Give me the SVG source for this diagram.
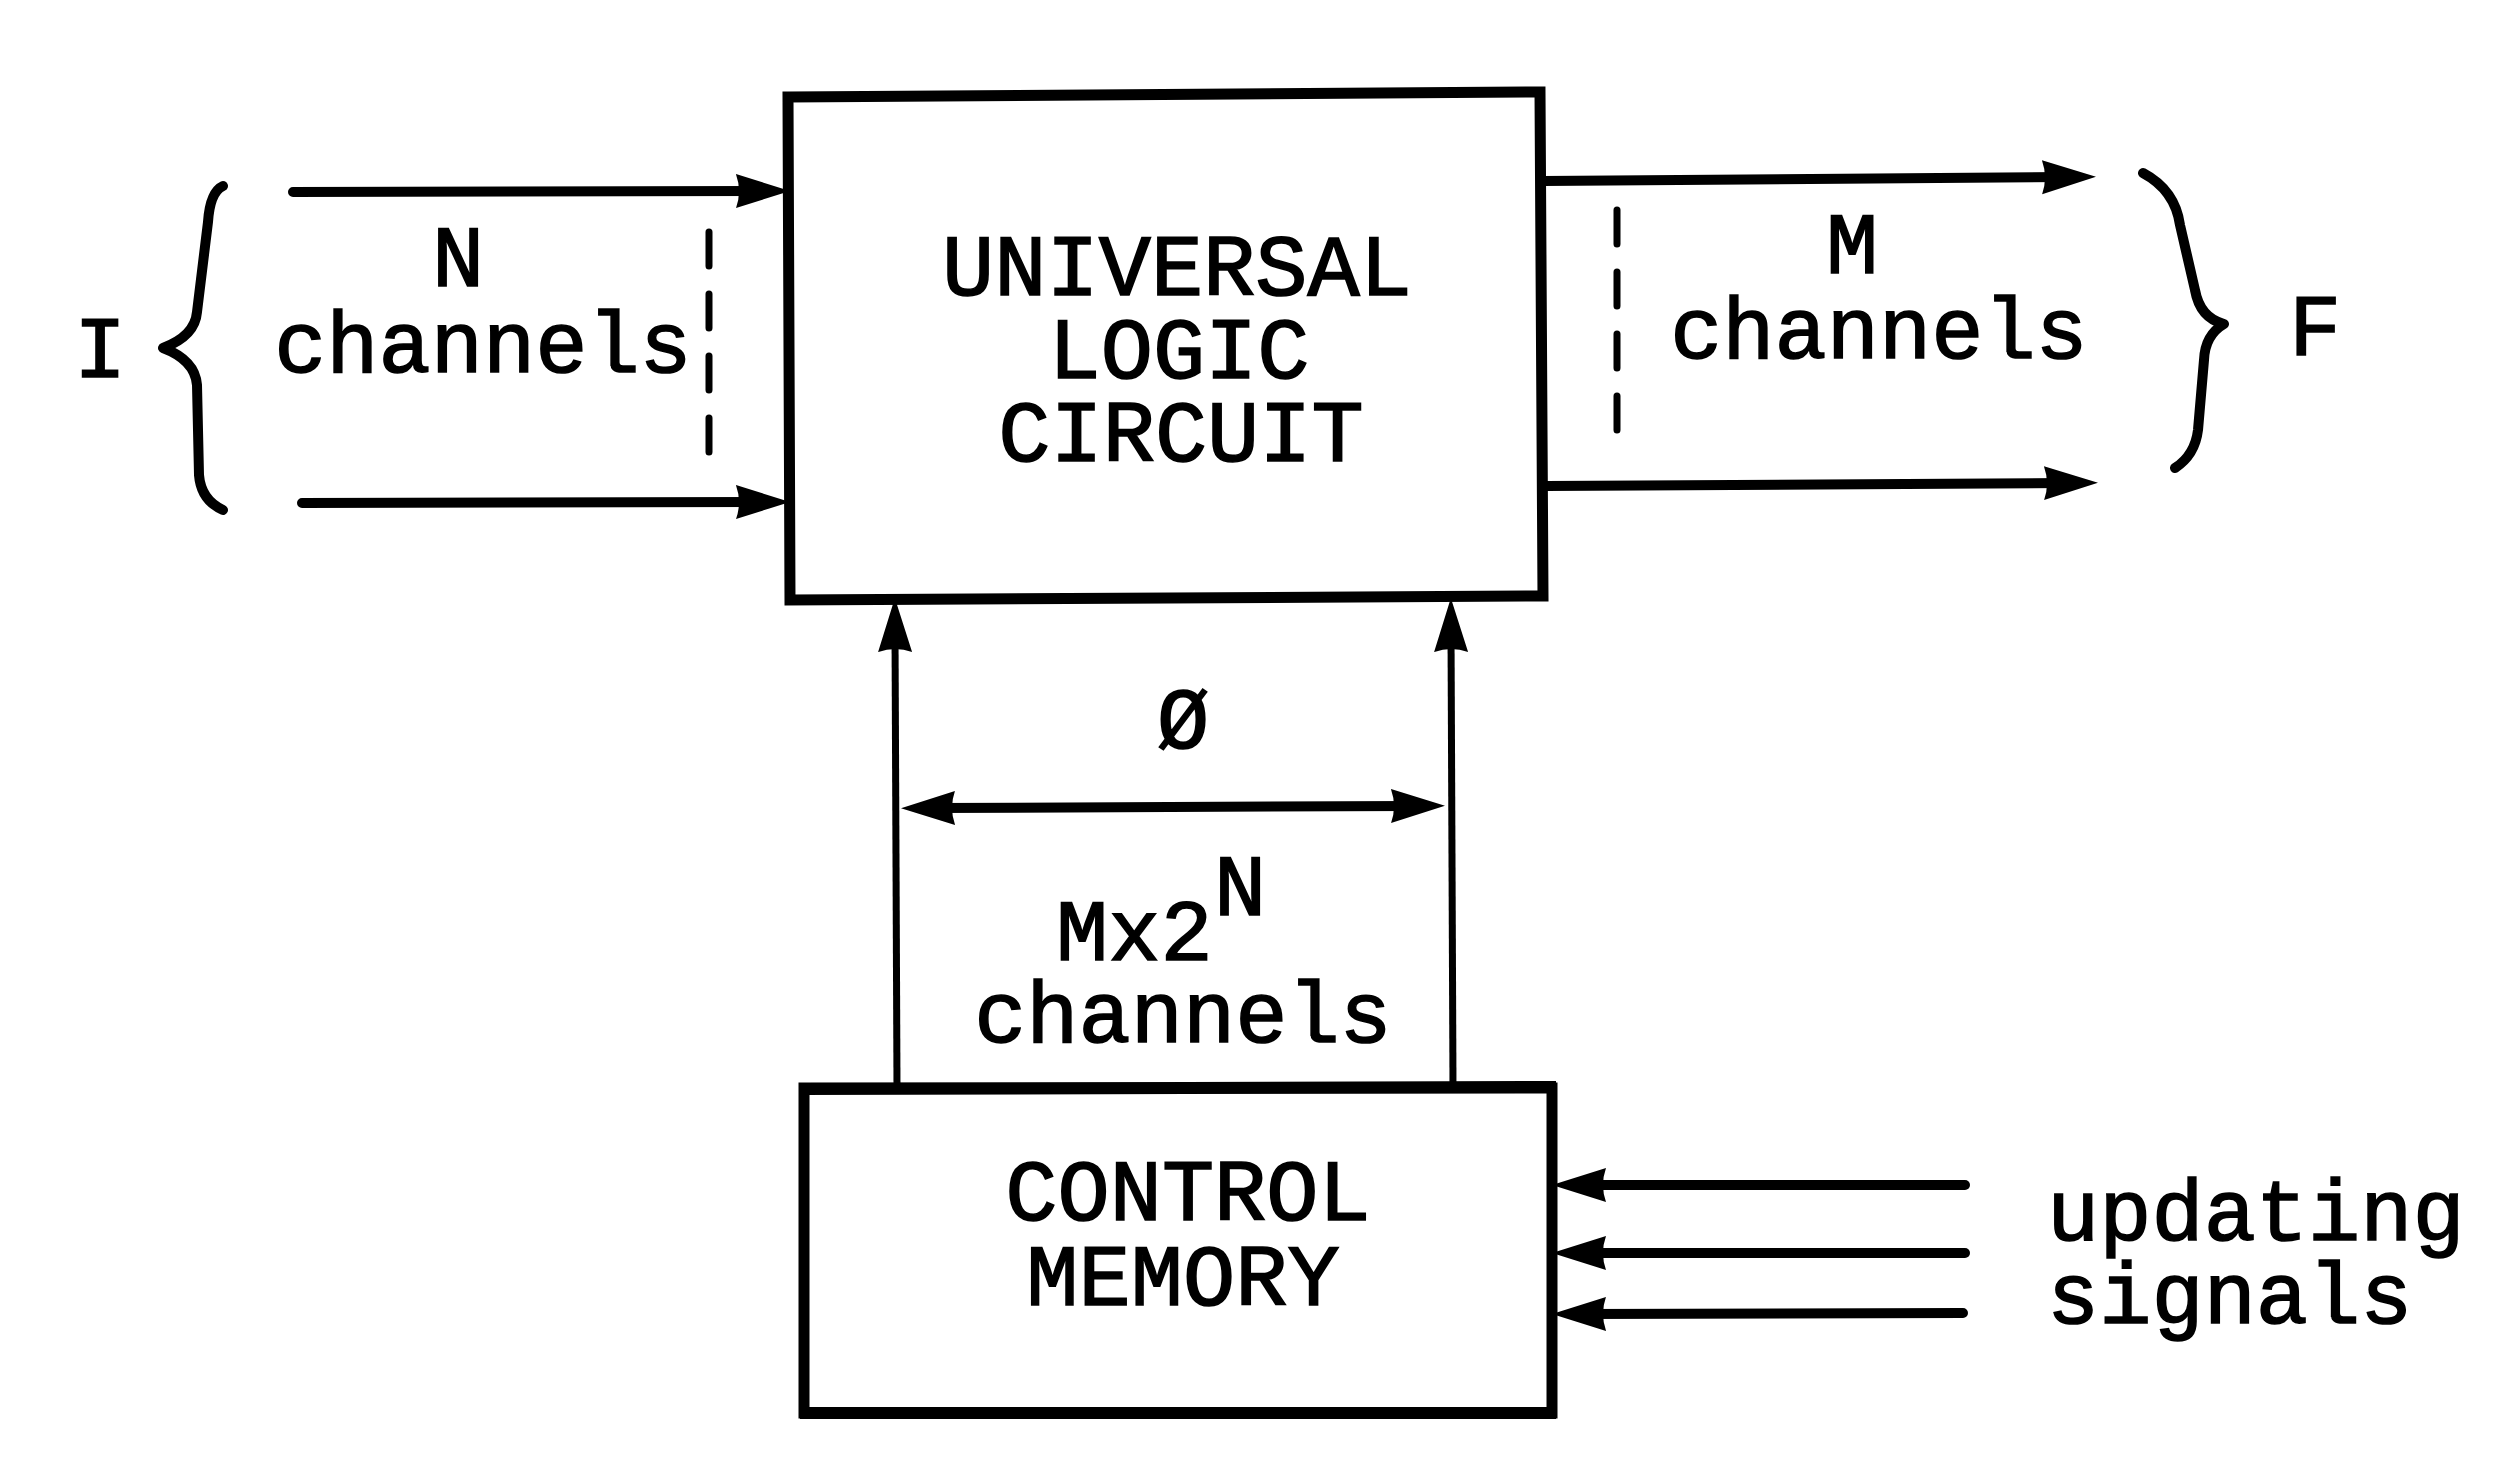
<svg xmlns="http://www.w3.org/2000/svg" width="2494" height="1460" viewBox="0 0 2494 1460">
<style>
text { font-family: "Liberation Mono", "DejaVu Sans Mono", monospace; font-size: 87px; fill: #000; stroke: #000; stroke-width: 1.6; }
.mid { text-anchor: middle; }
.box { fill: none; stroke: #000; stroke-width: 11; stroke-linejoin: miter; }
.wire { fill: none; stroke: #000; stroke-width: 10; stroke-linecap: round; }
.thin { fill: none; stroke: #000; stroke-width: 7; }
.dash { fill: none; stroke: #000; stroke-width: 7; stroke-dasharray: 34 28; stroke-linecap: round; }
.brace { fill: none; stroke: #000; stroke-width: 10; stroke-linecap: round; stroke-linejoin: round; }
</style>
<defs>
<marker id="ah" markerUnits="userSpaceOnUse" viewBox="0 0 54 38" refX="20" refY="19" markerWidth="54" markerHeight="38" orient="auto-start-reverse">
<path d="M0,2 L54,19 L0,36 Q6,19 0,2 Z" fill="#000"/>
</marker>
</defs>
<rect width="2494" height="1460" fill="#fff"/>

<g id="universal-logic-circuit">
<path class="box" d="M788,97 L1540,92 L1543,596 L790,600 Z"/>
<text class="mid" x="1177" y="295">UNIVERSAL<tspan x="1179" dy="83">LOGIC</tspan><tspan x="1181" dy="83">CIRCUIT</tspan></text>
</g>

<g id="control-memory">
<rect class="box" x="804" y="1088" width="748" height="325" stroke-width="8"/>
<line x1="800" y1="1089" x2="1556" y2="1087" stroke="#000" stroke-width="12"/>
<line x1="800" y1="1413" x2="1556" y2="1413" stroke="#000" stroke-width="12"/>
<text class="mid" x="1188" y="1220">CONTROL<tspan x="1183" dy="85">MEMORY</tspan></text>
</g>

<g id="input-I">
<path class="brace" d="M223,186 Q210,192 208,222 L197,312 Q195,336 163,348 Q195,360 197,385 L199,475 Q201,500 223,510"/>
<text class="mid" x="100" y="377">I</text>
<text class="mid" x="458" y="286">N<tspan x="483" dy="86">channels</tspan></text>
<line class="dash" x1="709" y1="232" x2="709" y2="455"/>
</g>

<g id="output-F">
<path class="brace" d="M2143,173 Q2175,190 2180,225 L2195,290 Q2200,318 2224,324 Q2205,335 2204,360 L2198,430 Q2195,455 2175,468"/>
<text class="mid" x="2315" y="355">F</text>
<text class="mid" x="1852" y="273">M<tspan x="1879" dy="85">channels</tspan></text>
<line class="dash" x1="1617" y1="210" x2="1617" y2="445"/>
</g>

<g id="control-bus-label">
<text class="mid" x="1183" y="748">Ø</text>
<text x="1056" y="960">Mx2<tspan x="1214" dy="-45">N</tspan><tspan x="1183" dy="127" text-anchor="middle">channels</tspan></text>
</g>

<g id="updating-signals">
<text x="2047" y="1240">updating<tspan x="2047" dy="83">signals</tspan></text>
</g>

<g id="connectors">
<line class="wire" x1="293" y1="192" x2="756" y2="191" marker-end="url(#ah)"/>
<line class="wire" x1="302" y1="503" x2="756" y2="502" marker-end="url(#ah)"/>
<line class="wire" x1="1543" y1="181" x2="2062" y2="177" marker-end="url(#ah)"/>
<line class="wire" x1="1546" y1="486" x2="2064" y2="483" marker-end="url(#ah)"/>
<line class="thin" x1="897" y1="1088" x2="895" y2="632" marker-end="url(#ah)"/>
<line class="thin" x1="1453" y1="1088" x2="1451" y2="632" marker-end="url(#ah)"/>
<line class="wire" x1="935" y1="808" x2="1411" y2="806" marker-start="url(#ah)" marker-end="url(#ah)"/>
<line class="wire" x1="1965" y1="1185" x2="1586" y2="1185" marker-end="url(#ah)"/>
<line class="wire" x1="1965" y1="1253" x2="1586" y2="1253" marker-end="url(#ah)"/>
<line class="wire" x1="1963" y1="1313" x2="1586" y2="1314" marker-end="url(#ah)"/>
</g>
</svg>
